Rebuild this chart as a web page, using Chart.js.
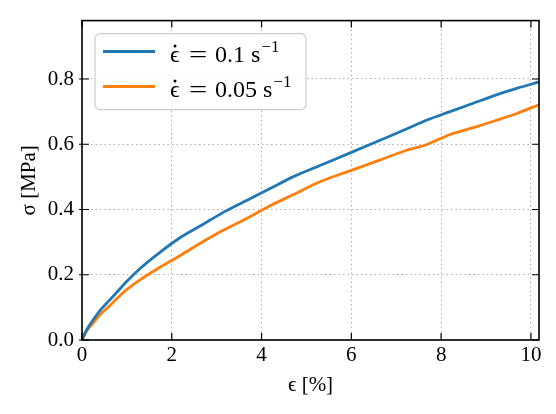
<!DOCTYPE html>
<html>
<head>
<meta charset="utf-8">
<script src="https://cdn.jsdelivr.net/npm/chart.js@4.4.0/dist/chart.umd.min.js"></script>
<style>
    html, body { margin: 0; padding: 0; background: #fff; }
</style>
</head>
<body>
<canvas id="stressChart" width="556" height="414"></canvas>
<script>
// strain in %, stress in MPa
const strain = [0, 0.1, 0.25, 0.4, 0.6, 0.8, 1.0, 1.3, 1.7, 2.2, 2.7, 3.2, 3.7, 4.2, 4.7, 5.3, 6.0, 6.6, 7.2, 7.7, 8.2, 8.7, 9.2, 9.7, 10.18];
const stressFast = [0, 0.03, 0.062, 0.09, 0.12, 0.15, 0.18, 0.22, 0.265, 0.315, 0.355, 0.395, 0.43, 0.465, 0.5, 0.535, 0.575, 0.61, 0.645, 0.675, 0.7, 0.725, 0.75, 0.772, 0.791];
const stressSlow = [0, 0.027, 0.052, 0.077, 0.103, 0.13, 0.155, 0.185, 0.22, 0.26, 0.302, 0.34, 0.375, 0.412, 0.445, 0.485, 0.52, 0.55, 0.58, 0.6, 0.63, 0.65, 0.672, 0.695, 0.721];
const rateLabels = ["0.1", "0.05"];
const xTicks = [0, 2, 4, 6, 8, 10];
const yTicks = [0, 0.2, 0.4, 0.6, 0.8];

const serif = "'Liberation Serif', 'DejaVu Serif', serif";
const blue = "#1f77b4";
const orange = "#ff7f0e";

function toPoints(ys) {
    return strain.map((x, i) => ({ x: x, y: ys[i] }));
}

// frame + inward tick marks on all four sides
const framePlugin = {
    id: "frame",
    afterDraw(chart) {
        const { ctx, chartArea: a, scales } = chart;
        ctx.save();
        ctx.strokeStyle = "#000";
        ctx.lineWidth = 1.2;
        ctx.beginPath();
        xTicks.forEach(v => {
            const px = scales.x.getPixelForValue(v);
            ctx.moveTo(px, a.bottom); ctx.lineTo(px, a.bottom - 7);
            ctx.moveTo(px, a.top); ctx.lineTo(px, a.top + 7);
        });
        yTicks.forEach(v => {
            const py = scales.y.getPixelForValue(v);
            ctx.moveTo(a.left - 3, py); ctx.lineTo(a.left + 7, py);
            ctx.moveTo(a.right, py); ctx.lineTo(a.right - 7, py);
        });
        ctx.stroke();
        ctx.lineWidth = 1.6;
        ctx.strokeRect(a.left, a.top, a.right - a.left, a.bottom - a.top);
        ctx.restore();
    }
};

// legend box in the upper left of the plot
const legendPlugin = {
    id: "boxLegend",
    afterDraw(chart) {
        const { ctx, chartArea: a } = chart;
        const x0 = a.left + 13, y0 = a.top + 13, w = 211, h = 76;
        ctx.save();
        ctx.beginPath();
        ctx.roundRect(x0, y0, w, h, 5);
        ctx.fillStyle = "rgba(255,255,255,0.85)";
        ctx.fill();
        ctx.strokeStyle = "#cccccc";
        ctx.lineWidth = 1.2;
        ctx.stroke();

        chart.data.datasets.forEach((ds, i) => {
            const ly = y0 + 18 + i * 35;
            ctx.strokeStyle = ds.borderColor;
            ctx.lineWidth = 3;
            ctx.beginPath();
            ctx.moveTo(x0 + 8, ly);
            ctx.lineTo(x0 + 60, ly);
            ctx.stroke();

            ctx.fillStyle = "#000";
            ctx.textBaseline = "alphabetic";
            const base = ly + 10.5;
            ctx.font = "24px " + serif;
            ctx.fillText("\u03f5", x0 + 75, base);
            // dot over epsilon
            ctx.beginPath();
            ctx.arc(x0 + 80, base - 16, 1.5, 0, Math.PI * 2);
            ctx.fill();
            // wider equals sign, as in TeX
            ctx.save();
            ctx.translate(x0 + 94, base);
            ctx.scale(1.35, 1);
            ctx.fillText("=", 0, 0);
            ctx.restore();
            const nx = x0 + 120;
            ctx.fillText(rateLabels[i], nx, base);
            const sx = nx + ctx.measureText(rateLabels[i]).width + 6;
            ctx.fillText("s", sx, base);
            const ex = sx + ctx.measureText("s").width + 1;
            ctx.font = "17px " + serif;
            ctx.fillText("\u22121", ex, ly + 0.5);
        });
        ctx.restore();
    }
};

new Chart(document.getElementById("stressChart").getContext("2d"), {
    type: "line",
    data: {
        datasets: [{
            label: "0.1",
            data: toPoints(stressFast),
            borderColor: blue,
            borderWidth: 2.8,
            pointRadius: 0,
            fill: false,
            cubicInterpolationMode: "monotone"
        }, {
            label: "0.05",
            data: toPoints(stressSlow),
            borderColor: orange,
            borderWidth: 2.8,
            pointRadius: 0,
            fill: false,
            cubicInterpolationMode: "monotone"
        }]
    },
    options: {
        responsive: false,
        animation: false,
        layout: { padding: { left: 0, top: 15, right: 17, bottom: 0 } },
        plugins: {
            legend: { display: false },
            tooltip: { enabled: false }
        },
        scales: {
            x: {
                type: "linear",
                min: 0,
                max: 10.18,
                afterBuildTicks: s => { s.ticks = xTicks.map(v => ({ value: v })); },
                afterFit: s => { s.height = 74; },
                ticks: {
                    font: { family: serif, size: 21 },
                    color: "#000",
                    padding: 3,
                    maxRotation: 0,
                    callback: v => String(v)
                },
                grid: { color: "#b0b0b0", lineWidth: 1, drawTicks: false },
                border: { display: false, dash: [1.5, 3] },
                title: {
                    display: true,
                    text: "\u03f5 [%]",
                    font: { family: serif, size: 21 },
                    color: "#000",
                    padding: { top: 0, bottom: 16 }
                }
            },
            y: {
                type: "linear",
                min: 0,
                max: 0.979,
                afterBuildTicks: s => { s.ticks = yTicks.map(v => ({ value: v })); },
                afterFit: s => { s.width = 82; },
                ticks: {
                    font: { family: serif, size: 21 },
                    color: "#000",
                    padding: 8,
                    callback: v => v.toFixed(1)
                },
                grid: { color: "#b0b0b0", lineWidth: 1, drawTicks: false },
                border: { display: false, dash: [1.5, 3] },
                title: {
                    display: true,
                    text: "\u03c3 [MPa]",
                    font: { family: serif, size: 21 },
                    color: "#000",
                    padding: { top: 17, bottom: 0 }
                }
            }
        }
    },
    plugins: [framePlugin, legendPlugin]
});
</script>
</body>
</html>
